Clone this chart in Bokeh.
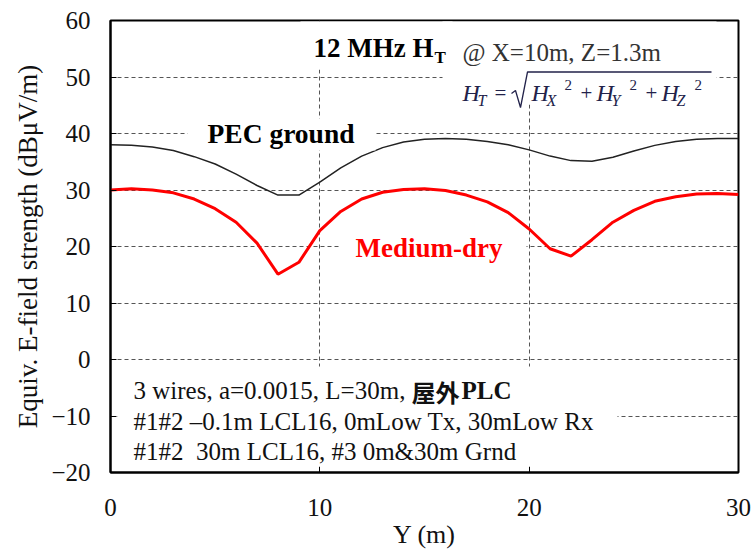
from bokeh.plotting import figure
from bokeh.models import Label, BoxAnnotation, PolyAnnotation, Range1d, FixedTicker
from bokeh.embed import file_html
from bokeh.resources import INLINE

# ---- data ----
y_pos = list(range(0, 31))
pec_ground = [38.0, 37.9, 37.6, 37.0, 35.9, 34.6, 32.8, 30.8, 29.1, 29.1,
              31.4, 33.9, 36.0, 37.5, 38.5, 39.0, 39.1, 39.0, 38.6, 38.0,
              37.1, 36.0, 35.2, 35.1, 35.8, 36.9, 37.9, 38.6, 39.0, 39.1, 39.1]
medium_dry = [30.0, 30.2, 30.0, 29.5, 28.4, 26.7, 24.3, 20.6, 15.1, 17.2,
              22.8, 26.2, 28.4, 29.6, 30.1, 30.2, 29.9, 29.1, 27.9, 26.0,
              23.1, 19.6, 18.3, 21.2, 24.3, 26.4, 28.0, 28.8, 29.3, 29.4, 29.2]
x_ticks = [0, 10, 20, 30]
y_ticks = [-20, -10, 0, 10, 20, 30, 40, 50, 60]

FONT = "Liberation Serif"

# frame geometry (page pixels) used to place annotations
FX0, FX1, FY0, FY1 = 110, 738, 20, 472
XMIN, XMAX, YMIN, YMAX = 0, 30, -20, 60
W, H = 753, 552
BL, BT = FX0, FY0
BR = W - BL - (FX1 - FX0)
BB = H - BT - (FY1 - FY0)


def X(px):
    return XMIN + (px - FX0) * (XMAX - XMIN) / (FX1 - FX0)


def Y(py):
    return YMAX - (py - FY0) * (YMAX - YMIN) / (FY1 - FY0)


p = figure(width=W, height=H, output_backend="svg", toolbar_location=None,
           x_range=Range1d(XMIN, XMAX), y_range=Range1d(YMIN, YMAX),
           min_border_left=BL, min_border_right=BR, min_border_top=BT,
           min_border_bottom=BB)
p.background_fill_color = "white"
p.border_fill_color = "white"
p.outline_line_color = "black"
p.outline_line_width = 2

for ax in (p.xaxis[0], p.yaxis[0]):
    ax.axis_line_color = "black"
    ax.axis_line_width = 2
    ax.major_tick_in = 6
    ax.major_tick_out = 0
    ax.minor_tick_line_color = None
    ax.major_tick_line_color = "black"
    ax.major_tick_line_width = 1
    ax.major_label_text_font = FONT
    ax.major_label_text_font_size = "25px"
    ax.major_label_text_color = "#111111"
    ax.axis_label_text_font = FONT
    ax.axis_label_text_font_style = "normal"
    ax.axis_label_text_color = "#111111"

p.xaxis.ticker = FixedTicker(ticks=x_ticks)
p.yaxis.ticker = FixedTicker(ticks=y_ticks)
p.xaxis.axis_label = "Y (m)"
p.yaxis.axis_label = "Equiv. E-field strength (dBμV/m)"
p.xaxis.axis_label_text_font_size = "26px"
p.yaxis.axis_label_text_font_size = "27px"
p.xaxis.major_label_standoff = 26
p.xaxis.axis_label_standoff = 1
p.yaxis.major_label_standoff = 20
p.yaxis.axis_label_standoff = 5

for g in (p.xgrid[0], p.ygrid[0]):
    g.grid_line_color = "#555555"
    g.grid_line_dash = "4 3"
    g.grid_line_width = 1
p.xgrid.ticker = FixedTicker(ticks=x_ticks)
p.ygrid.ticker = FixedTicker(ticks=y_ticks)

# curves
p.line(y_pos, pec_ground, line_color="#222222", line_width=1.5)
p.line(y_pos, medium_dry, line_color="#ff0000", line_width=3)

# white boxes behind annotation texts (hide the grid there)
for (l, r, t, b) in [(300, 452, 21, 69), (442, 716, 21, 104),
                     (187, 375, 118, 150), (339, 526, 234, 263),
                     (117, 617, 366, 466)]:
    p.add_layout(BoxAnnotation(left=X(l), right=X(r), top=Y(t), bottom=Y(b),
                               fill_color="white", fill_alpha=1.0,
                               line_alpha=0))


def lab(text, px, py, size, style="normal", color="#111111", font=FONT,
        align="left"):
    # py is the wanted baseline (page px); compensate the label's box offset
    p.add_layout(Label(x=X(px), y=Y(py - 0.35 * size), text=text,
                       text_font=font, text_font_size=f"{size}px",
                       text_font_style=style, text_color=color,
                       text_baseline="alphabetic", text_align=align))


# title
lab("12 MHz H", 313, 57, 27, "bold", "black")
lab("T", 434, 63, 17, "bold", "black")
lab("@ X=10m, Z=1.3m", 462, 61, 25, "normal", "#333333")

# formula H_T = sqrt(H_X^2 + H_Y^2 + H_Z^2)
FC = "#22224a"
lab("H", 462, 101, 24, "italic", FC)
lab("T", 477, 106, 16, "italic", FC)
lab("=", 494, 100, 21, "normal", FC)
# radical sign drawn as an open path (traced forward and back)
rx = [511, 515, 520, 527, 711, 527, 520, 515]
ry = [93, 90, 107, 71.5, 71.5, 71.5, 107, 90]
p.add_layout(PolyAnnotation(xs=[X(v) for v in rx], ys=[Y(v) for v in ry],
                            fill_alpha=0, line_color=FC, line_alpha=1.0,
                            line_width=1.3))
for hx, sub, supx, plusx in [(531, "X", 564, 580), (596, "Y", 629, 645), (661, "Z", 694, None)]:
    lab("H", hx, 101, 24, "italic", FC)
    lab(sub, hx + 15, 106, 16, "italic", FC)
    lab("2", supx, 90, 15, "normal", FC)
    if plusx is not None:
        lab("+", plusx, 100, 21, "normal", FC)

# series labels
lab("PEC ground", 207, 143, 27.5, "bold", "black")
lab("Medium-dry", 355, 257, 27, "bold", "#ff0000")

# bottom annotation
lab("3 wires, a=0.0015, L=30m, ", 133, 399, 25, "normal", "#111111")
lab("屋外", 411, 399, 24, "bold", "#111111", "Noto Sans CJK JP")
lab("PLC", 461, 399, 25, "bold", "#111111")
lab("#1#2 –0.1m LCL16, 0mLow Tx, 30mLow Rx", 133, 430, 25, "normal", "#111111")
lab("#1#2\u00a0 30m LCL16, #3 0m&30m Grnd", 133, 460, 25, "normal", "#111111")

open("out.html", "w").write(file_html(p, INLINE))
